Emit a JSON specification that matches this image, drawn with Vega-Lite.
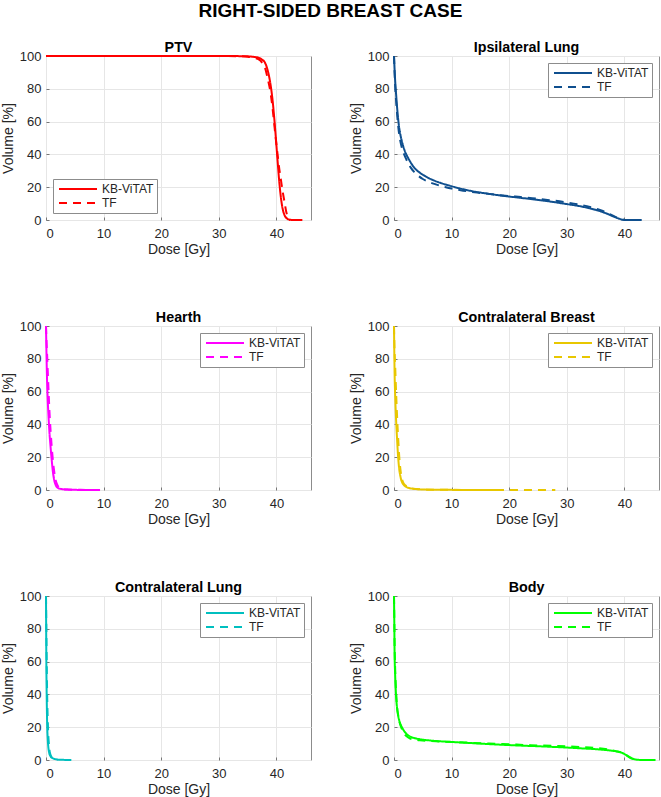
{
  "$schema": "https://vega.github.io/schema/vega-lite/v6.json",
  "padding": {"left": 0, "top": 2, "right": 0, "bottom": 0},
  "background": "white",
  "title": {"text": "RIGHT-SIDED BREAST CASE", "fontSize": 19, "fontWeight": "bold", "anchor": "middle", "offset": 19, "color": "black", "font": "Liberation Sans"},
  "datasets": {
    "ptv": [
      {"plan": "KB-ViTAT", "dose": 0, "vol": 100}, {"plan": "KB-ViTAT", "dose": 30, "vol": 100}, {"plan": "KB-ViTAT", "dose": 34, "vol": 99.9}, {"plan": "KB-ViTAT", "dose": 35, "vol": 99.8}, {"plan": "KB-ViTAT", "dose": 36, "vol": 99.5}, {"plan": "KB-ViTAT", "dose": 37, "vol": 98.8}, {"plan": "KB-ViTAT", "dose": 37.5, "vol": 97.8}, {"plan": "KB-ViTAT", "dose": 38, "vol": 96}, {"plan": "KB-ViTAT", "dose": 38.5, "vol": 91}, {"plan": "KB-ViTAT", "dose": 39, "vol": 82}, {"plan": "KB-ViTAT", "dose": 39.3, "vol": 74}, {"plan": "KB-ViTAT", "dose": 39.6, "vol": 63}, {"plan": "KB-ViTAT", "dose": 39.9, "vol": 50}, {"plan": "KB-ViTAT", "dose": 40.2, "vol": 36}, {"plan": "KB-ViTAT", "dose": 40.5, "vol": 23}, {"plan": "KB-ViTAT", "dose": 40.8, "vol": 13}, {"plan": "KB-ViTAT", "dose": 41.1, "vol": 6.5}, {"plan": "KB-ViTAT", "dose": 41.4, "vol": 3}, {"plan": "KB-ViTAT", "dose": 41.8, "vol": 1}, {"plan": "KB-ViTAT", "dose": 42.3, "vol": 0.2}, {"plan": "KB-ViTAT", "dose": 43, "vol": 0}, {"plan": "KB-ViTAT", "dose": 44.5, "vol": 0},
      {"plan": "TF", "dose": 0, "vol": 100}, {"plan": "TF", "dose": 30, "vol": 100}, {"plan": "TF", "dose": 34, "vol": 99.8}, {"plan": "TF", "dose": 35, "vol": 99.6}, {"plan": "TF", "dose": 36, "vol": 99}, {"plan": "TF", "dose": 37, "vol": 97.8}, {"plan": "TF", "dose": 37.5, "vol": 96}, {"plan": "TF", "dose": 38, "vol": 93}, {"plan": "TF", "dose": 38.5, "vol": 86}, {"plan": "TF", "dose": 39, "vol": 77}, {"plan": "TF", "dose": 39.3, "vol": 69}, {"plan": "TF", "dose": 39.6, "vol": 59}, {"plan": "TF", "dose": 39.9, "vol": 49}, {"plan": "TF", "dose": 40.2, "vol": 40}, {"plan": "TF", "dose": 40.5, "vol": 31}, {"plan": "TF", "dose": 40.8, "vol": 24}, {"plan": "TF", "dose": 41.1, "vol": 17}, {"plan": "TF", "dose": 41.4, "vol": 11}, {"plan": "TF", "dose": 41.7, "vol": 5}, {"plan": "TF", "dose": 42, "vol": 1.5}, {"plan": "TF", "dose": 42.2, "vol": 0.3}, {"plan": "TF", "dose": 42.4, "vol": 0}
    ],
    "lung": [
      {"plan": "KB-ViTAT", "dose": 0, "vol": 100}, {"plan": "KB-ViTAT", "dose": 0.1, "vol": 92}, {"plan": "KB-ViTAT", "dose": 0.2, "vol": 85}, {"plan": "KB-ViTAT", "dose": 0.4, "vol": 75}, {"plan": "KB-ViTAT", "dose": 0.6, "vol": 66}, {"plan": "KB-ViTAT", "dose": 0.8, "vol": 59}, {"plan": "KB-ViTAT", "dose": 1.0, "vol": 54}, {"plan": "KB-ViTAT", "dose": 1.3, "vol": 49}, {"plan": "KB-ViTAT", "dose": 1.6, "vol": 45}, {"plan": "KB-ViTAT", "dose": 2, "vol": 41}, {"plan": "KB-ViTAT", "dose": 2.5, "vol": 37.5}, {"plan": "KB-ViTAT", "dose": 3, "vol": 34.5}, {"plan": "KB-ViTAT", "dose": 3.5, "vol": 32}, {"plan": "KB-ViTAT", "dose": 4, "vol": 30.2}, {"plan": "KB-ViTAT", "dose": 5, "vol": 27.6}, {"plan": "KB-ViTAT", "dose": 6, "vol": 25.6}, {"plan": "KB-ViTAT", "dose": 7, "vol": 24}, {"plan": "KB-ViTAT", "dose": 8, "vol": 22.7}, {"plan": "KB-ViTAT", "dose": 9, "vol": 21.6}, {"plan": "KB-ViTAT", "dose": 10, "vol": 20.6}, {"plan": "KB-ViTAT", "dose": 12, "vol": 18.8}, {"plan": "KB-ViTAT", "dose": 14, "vol": 17.3}, {"plan": "KB-ViTAT", "dose": 16, "vol": 16.2}, {"plan": "KB-ViTAT", "dose": 18, "vol": 15.2}, {"plan": "KB-ViTAT", "dose": 20, "vol": 14.3}, {"plan": "KB-ViTAT", "dose": 22, "vol": 13.5}, {"plan": "KB-ViTAT", "dose": 24, "vol": 12.7}, {"plan": "KB-ViTAT", "dose": 26, "vol": 11.8}, {"plan": "KB-ViTAT", "dose": 28, "vol": 10.8}, {"plan": "KB-ViTAT", "dose": 30, "vol": 9.7}, {"plan": "KB-ViTAT", "dose": 32, "vol": 8.6}, {"plan": "KB-ViTAT", "dose": 34, "vol": 7.1}, {"plan": "KB-ViTAT", "dose": 35, "vol": 6.2}, {"plan": "KB-ViTAT", "dose": 36, "vol": 5.1}, {"plan": "KB-ViTAT", "dose": 37, "vol": 3.8}, {"plan": "KB-ViTAT", "dose": 38, "vol": 2.3}, {"plan": "KB-ViTAT", "dose": 39, "vol": 0.9}, {"plan": "KB-ViTAT", "dose": 39.8, "vol": 0.1}, {"plan": "KB-ViTAT", "dose": 40.5, "vol": 0}, {"plan": "KB-ViTAT", "dose": 43, "vol": 0},
      {"plan": "TF", "dose": 0, "vol": 100}, {"plan": "TF", "dose": 0.1, "vol": 90}, {"plan": "TF", "dose": 0.2, "vol": 82}, {"plan": "TF", "dose": 0.4, "vol": 71}, {"plan": "TF", "dose": 0.6, "vol": 62}, {"plan": "TF", "dose": 0.8, "vol": 55}, {"plan": "TF", "dose": 1.0, "vol": 50}, {"plan": "TF", "dose": 1.3, "vol": 45}, {"plan": "TF", "dose": 1.6, "vol": 41.5}, {"plan": "TF", "dose": 2, "vol": 38}, {"plan": "TF", "dose": 2.5, "vol": 34.3}, {"plan": "TF", "dose": 3, "vol": 31.5}, {"plan": "TF", "dose": 3.5, "vol": 29.3}, {"plan": "TF", "dose": 4, "vol": 27.6}, {"plan": "TF", "dose": 5, "vol": 25}, {"plan": "TF", "dose": 6, "vol": 23.3}, {"plan": "TF", "dose": 7, "vol": 22}, {"plan": "TF", "dose": 8, "vol": 20.9}, {"plan": "TF", "dose": 9, "vol": 20}, {"plan": "TF", "dose": 10, "vol": 19.2}, {"plan": "TF", "dose": 12, "vol": 17.9}, {"plan": "TF", "dose": 14, "vol": 16.9}, {"plan": "TF", "dose": 16, "vol": 16.1}, {"plan": "TF", "dose": 18, "vol": 15.3}, {"plan": "TF", "dose": 20, "vol": 14.6}, {"plan": "TF", "dose": 22, "vol": 14}, {"plan": "TF", "dose": 24, "vol": 13.3}, {"plan": "TF", "dose": 26, "vol": 12.5}, {"plan": "TF", "dose": 28, "vol": 11.7}, {"plan": "TF", "dose": 30, "vol": 10.7}, {"plan": "TF", "dose": 32, "vol": 9.5}, {"plan": "TF", "dose": 34, "vol": 8}, {"plan": "TF", "dose": 35, "vol": 7}, {"plan": "TF", "dose": 36, "vol": 5.8}, {"plan": "TF", "dose": 37, "vol": 4.3}, {"plan": "TF", "dose": 38, "vol": 2.6}, {"plan": "TF", "dose": 39, "vol": 1}, {"plan": "TF", "dose": 39.8, "vol": 0.1}, {"plan": "TF", "dose": 40.2, "vol": 0}
    ],
    "heart": [
      {"plan": "KB-ViTAT", "dose": 0, "vol": 100}, {"plan": "KB-ViTAT", "dose": 0.05, "vol": 90}, {"plan": "KB-ViTAT", "dose": 0.1, "vol": 80}, {"plan": "KB-ViTAT", "dose": 0.2, "vol": 65}, {"plan": "KB-ViTAT", "dose": 0.3, "vol": 55}, {"plan": "KB-ViTAT", "dose": 0.45, "vol": 44}, {"plan": "KB-ViTAT", "dose": 0.6, "vol": 35}, {"plan": "KB-ViTAT", "dose": 0.8, "vol": 26}, {"plan": "KB-ViTAT", "dose": 1.0, "vol": 18}, {"plan": "KB-ViTAT", "dose": 1.2, "vol": 11}, {"plan": "KB-ViTAT", "dose": 1.4, "vol": 6.5}, {"plan": "KB-ViTAT", "dose": 1.6, "vol": 3.8}, {"plan": "KB-ViTAT", "dose": 1.8, "vol": 2.2}, {"plan": "KB-ViTAT", "dose": 2.1, "vol": 1.2}, {"plan": "KB-ViTAT", "dose": 2.5, "vol": 0.7}, {"plan": "KB-ViTAT", "dose": 3, "vol": 0.4}, {"plan": "KB-ViTAT", "dose": 4, "vol": 0.2}, {"plan": "KB-ViTAT", "dose": 5, "vol": 0.1}, {"plan": "KB-ViTAT", "dose": 6, "vol": 0.05}, {"plan": "KB-ViTAT", "dose": 8.2, "vol": 0},
      {"plan": "TF", "dose": 0, "vol": 100}, {"plan": "TF", "dose": 0.05, "vol": 95}, {"plan": "TF", "dose": 0.1, "vol": 90}, {"plan": "TF", "dose": 0.2, "vol": 82}, {"plan": "TF", "dose": 0.3, "vol": 73}, {"plan": "TF", "dose": 0.45, "vol": 60}, {"plan": "TF", "dose": 0.6, "vol": 48}, {"plan": "TF", "dose": 0.8, "vol": 36}, {"plan": "TF", "dose": 1.0, "vol": 26}, {"plan": "TF", "dose": 1.2, "vol": 18}, {"plan": "TF", "dose": 1.4, "vol": 12}, {"plan": "TF", "dose": 1.6, "vol": 7.5}, {"plan": "TF", "dose": 1.8, "vol": 4.5}, {"plan": "TF", "dose": 2.1, "vol": 2.3}, {"plan": "TF", "dose": 2.5, "vol": 1.1}, {"plan": "TF", "dose": 3, "vol": 0.5}, {"plan": "TF", "dose": 4, "vol": 0.25}, {"plan": "TF", "dose": 6, "vol": 0.1}, {"plan": "TF", "dose": 8, "vol": 0.05}, {"plan": "TF", "dose": 10, "vol": 0}
    ],
    "cbreast": [
      {"plan": "KB-ViTAT", "dose": 0, "vol": 100}, {"plan": "KB-ViTAT", "dose": 0.05, "vol": 85}, {"plan": "KB-ViTAT", "dose": 0.1, "vol": 72}, {"plan": "KB-ViTAT", "dose": 0.2, "vol": 58}, {"plan": "KB-ViTAT", "dose": 0.3, "vol": 48}, {"plan": "KB-ViTAT", "dose": 0.4, "vol": 40}, {"plan": "KB-ViTAT", "dose": 0.55, "vol": 30}, {"plan": "KB-ViTAT", "dose": 0.7, "vol": 21}, {"plan": "KB-ViTAT", "dose": 0.9, "vol": 13}, {"plan": "KB-ViTAT", "dose": 1.1, "vol": 8.5}, {"plan": "KB-ViTAT", "dose": 1.3, "vol": 5.6}, {"plan": "KB-ViTAT", "dose": 1.6, "vol": 3.5}, {"plan": "KB-ViTAT", "dose": 2, "vol": 2.1}, {"plan": "KB-ViTAT", "dose": 2.5, "vol": 1.3}, {"plan": "KB-ViTAT", "dose": 3, "vol": 0.9}, {"plan": "KB-ViTAT", "dose": 4, "vol": 0.5}, {"plan": "KB-ViTAT", "dose": 5, "vol": 0.3}, {"plan": "KB-ViTAT", "dose": 7, "vol": 0.15}, {"plan": "KB-ViTAT", "dose": 10, "vol": 0.08}, {"plan": "KB-ViTAT", "dose": 14, "vol": 0.03}, {"plan": "KB-ViTAT", "dose": 18.1, "vol": 0},
      {"plan": "TF", "dose": 0, "vol": 100}, {"plan": "TF", "dose": 0.05, "vol": 92}, {"plan": "TF", "dose": 0.1, "vol": 85}, {"plan": "TF", "dose": 0.2, "vol": 76}, {"plan": "TF", "dose": 0.3, "vol": 66}, {"plan": "TF", "dose": 0.45, "vol": 52}, {"plan": "TF", "dose": 0.6, "vol": 40}, {"plan": "TF", "dose": 0.75, "vol": 30}, {"plan": "TF", "dose": 0.9, "vol": 21}, {"plan": "TF", "dose": 1.1, "vol": 13}, {"plan": "TF", "dose": 1.3, "vol": 8}, {"plan": "TF", "dose": 1.6, "vol": 4.5}, {"plan": "TF", "dose": 2, "vol": 2.8}, {"plan": "TF", "dose": 2.5, "vol": 1.7}, {"plan": "TF", "dose": 3, "vol": 1.1}, {"plan": "TF", "dose": 4, "vol": 0.6}, {"plan": "TF", "dose": 5, "vol": 0.35}, {"plan": "TF", "dose": 7, "vol": 0.2}, {"plan": "TF", "dose": 10, "vol": 0.1}, {"plan": "TF", "dose": 15, "vol": 0.05}, {"plan": "TF", "dose": 20, "vol": 0.02}, {"plan": "TF", "dose": 28, "vol": 0}
    ],
    "clung": [
      {"plan": "KB-ViTAT", "dose": 0, "vol": 100}, {"plan": "KB-ViTAT", "dose": 0.03, "vol": 80}, {"plan": "KB-ViTAT", "dose": 0.06, "vol": 60}, {"plan": "KB-ViTAT", "dose": 0.1, "vol": 45}, {"plan": "KB-ViTAT", "dose": 0.15, "vol": 32}, {"plan": "KB-ViTAT", "dose": 0.2, "vol": 22}, {"plan": "KB-ViTAT", "dose": 0.3, "vol": 13}, {"plan": "KB-ViTAT", "dose": 0.4, "vol": 8}, {"plan": "KB-ViTAT", "dose": 0.55, "vol": 4.5}, {"plan": "KB-ViTAT", "dose": 0.8, "vol": 2.2}, {"plan": "KB-ViTAT", "dose": 1.1, "vol": 1.2}, {"plan": "KB-ViTAT", "dose": 1.5, "vol": 0.6}, {"plan": "KB-ViTAT", "dose": 2, "vol": 0.3}, {"plan": "KB-ViTAT", "dose": 3, "vol": 0.1}, {"plan": "KB-ViTAT", "dose": 4.4, "vol": 0},
      {"plan": "TF", "dose": 0, "vol": 100}, {"plan": "TF", "dose": 0.05, "vol": 85}, {"plan": "TF", "dose": 0.1, "vol": 68}, {"plan": "TF", "dose": 0.15, "vol": 52}, {"plan": "TF", "dose": 0.2, "vol": 40}, {"plan": "TF", "dose": 0.3, "vol": 25}, {"plan": "TF", "dose": 0.4, "vol": 15}, {"plan": "TF", "dose": 0.5, "vol": 10}, {"plan": "TF", "dose": 0.6, "vol": 6}, {"plan": "TF", "dose": 0.8, "vol": 3}, {"plan": "TF", "dose": 1.0, "vol": 1.5}, {"plan": "TF", "dose": 1.3, "vol": 0.6}, {"plan": "TF", "dose": 1.6, "vol": 0.2}, {"plan": "TF", "dose": 2, "vol": 0}
    ],
    "body": [
      {"plan": "KB-ViTAT", "dose": 0, "vol": 100}, {"plan": "KB-ViTAT", "dose": 0.05, "vol": 85}, {"plan": "KB-ViTAT", "dose": 0.1, "vol": 66}, {"plan": "KB-ViTAT", "dose": 0.2, "vol": 52}, {"plan": "KB-ViTAT", "dose": 0.3, "vol": 43}, {"plan": "KB-ViTAT", "dose": 0.4, "vol": 37}, {"plan": "KB-ViTAT", "dose": 0.55, "vol": 31}, {"plan": "KB-ViTAT", "dose": 0.7, "vol": 27.5}, {"plan": "KB-ViTAT", "dose": 1.0, "vol": 23}, {"plan": "KB-ViTAT", "dose": 1.3, "vol": 20.5}, {"plan": "KB-ViTAT", "dose": 1.7, "vol": 18}, {"plan": "KB-ViTAT", "dose": 2.2, "vol": 15.8}, {"plan": "KB-ViTAT", "dose": 2.8, "vol": 14.3}, {"plan": "KB-ViTAT", "dose": 3.5, "vol": 13.4}, {"plan": "KB-ViTAT", "dose": 4.5, "vol": 12.7}, {"plan": "KB-ViTAT", "dose": 6, "vol": 12}, {"plan": "KB-ViTAT", "dose": 8, "vol": 11.4}, {"plan": "KB-ViTAT", "dose": 10, "vol": 11}, {"plan": "KB-ViTAT", "dose": 12.5, "vol": 10.5}, {"plan": "KB-ViTAT", "dose": 15, "vol": 10}, {"plan": "KB-ViTAT", "dose": 17.5, "vol": 9.5}, {"plan": "KB-ViTAT", "dose": 20, "vol": 9.1}, {"plan": "KB-ViTAT", "dose": 22.5, "vol": 8.7}, {"plan": "KB-ViTAT", "dose": 25, "vol": 8.4}, {"plan": "KB-ViTAT", "dose": 27.5, "vol": 8}, {"plan": "KB-ViTAT", "dose": 30, "vol": 7.6}, {"plan": "KB-ViTAT", "dose": 32.5, "vol": 7.1}, {"plan": "KB-ViTAT", "dose": 35, "vol": 6.6}, {"plan": "KB-ViTAT", "dose": 37, "vol": 6}, {"plan": "KB-ViTAT", "dose": 38.5, "vol": 5.3}, {"plan": "KB-ViTAT", "dose": 39.5, "vol": 4.5}, {"plan": "KB-ViTAT", "dose": 40.2, "vol": 3.2}, {"plan": "KB-ViTAT", "dose": 40.8, "vol": 2}, {"plan": "KB-ViTAT", "dose": 41.3, "vol": 1}, {"plan": "KB-ViTAT", "dose": 41.8, "vol": 0.4}, {"plan": "KB-ViTAT", "dose": 42.5, "vol": 0.1}, {"plan": "KB-ViTAT", "dose": 43.5, "vol": 0}, {"plan": "KB-ViTAT", "dose": 45.4, "vol": 0},
      {"plan": "TF", "dose": 0, "vol": 100}, {"plan": "TF", "dose": 0.05, "vol": 88}, {"plan": "TF", "dose": 0.1, "vol": 72}, {"plan": "TF", "dose": 0.2, "vol": 56}, {"plan": "TF", "dose": 0.3, "vol": 46}, {"plan": "TF", "dose": 0.4, "vol": 39}, {"plan": "TF", "dose": 0.55, "vol": 32}, {"plan": "TF", "dose": 0.7, "vol": 28}, {"plan": "TF", "dose": 1.0, "vol": 22.5}, {"plan": "TF", "dose": 1.3, "vol": 19.5}, {"plan": "TF", "dose": 1.7, "vol": 16.5}, {"plan": "TF", "dose": 2.2, "vol": 14.5}, {"plan": "TF", "dose": 2.8, "vol": 13.1}, {"plan": "TF", "dose": 3.5, "vol": 12.4}, {"plan": "TF", "dose": 4.5, "vol": 12}, {"plan": "TF", "dose": 6, "vol": 11.6}, {"plan": "TF", "dose": 8, "vol": 11.3}, {"plan": "TF", "dose": 10, "vol": 11}, {"plan": "TF", "dose": 12.5, "vol": 10.6}, {"plan": "TF", "dose": 15, "vol": 10.2}, {"plan": "TF", "dose": 17.5, "vol": 9.9}, {"plan": "TF", "dose": 20, "vol": 9.6}, {"plan": "TF", "dose": 22.5, "vol": 9.2}, {"plan": "TF", "dose": 25, "vol": 8.9}, {"plan": "TF", "dose": 27.5, "vol": 8.6}, {"plan": "TF", "dose": 30, "vol": 8.3}, {"plan": "TF", "dose": 32.5, "vol": 7.9}, {"plan": "TF", "dose": 35, "vol": 7.4}, {"plan": "TF", "dose": 37, "vol": 6.5}, {"plan": "TF", "dose": 38.5, "vol": 5.4}, {"plan": "TF", "dose": 39.5, "vol": 4.5}, {"plan": "TF", "dose": 40.2, "vol": 3.1}, {"plan": "TF", "dose": 40.8, "vol": 1.8}, {"plan": "TF", "dose": 41.3, "vol": 0.8}, {"plan": "TF", "dose": 41.8, "vol": 0.3}, {"plan": "TF", "dose": 42.5, "vol": 0}
    ]
  },
  "columns": 2,
  "spacing": {"row": 53, "column": 36},
  "resolve": {"scale": {"strokeDash": "independent"}, "legend": {"strokeDash": "independent"}},
  "concat": [
    {
      "title": "PTV", "width": 265, "height": 164,
      "data": {"name": "ptv"},
      "mark": {"type": "line", "color": "#ff0000", "strokeWidth": 2, "interpolate": "monotone"},
      "encoding": {
        "x": {"field": "dose", "type": "quantitative", "title": "Dose [Gy]", "scale": {"domain": [0, 46], "nice": false}, "axis": {"values": [0, 10, 20, 30, 40]}},
        "y": {"field": "vol", "type": "quantitative", "title": "Volume [%]", "scale": {"domain": [0, 100], "nice": false}, "axis": {"values": [0, 20, 40, 60, 80, 100]}},
        "strokeDash": {"field": "plan", "type": "nominal", "scale": {"domain": ["KB-ViTAT", "TF"], "range": [[1, 0], [8, 6]]}, "legend": {"title": null, "orient": "bottom-left", "symbolStrokeColor": "#ff0000"}}
      }
    },
    {
      "title": "Ipsilateral Lung", "width": 265, "height": 164,
      "data": {"name": "lung"},
      "mark": {"type": "line", "color": "#0f4f8e", "strokeWidth": 2, "interpolate": "monotone"},
      "encoding": {
        "x": {"field": "dose", "type": "quantitative", "title": "Dose [Gy]", "scale": {"domain": [0, 46], "nice": false}, "axis": {"values": [0, 10, 20, 30, 40]}},
        "y": {"field": "vol", "type": "quantitative", "title": "Volume [%]", "scale": {"domain": [0, 100], "nice": false}, "axis": {"values": [0, 20, 40, 60, 80, 100]}},
        "strokeDash": {"field": "plan", "type": "nominal", "scale": {"domain": ["KB-ViTAT", "TF"], "range": [[1, 0], [8, 6]]}, "legend": {"title": null, "orient": "top-right", "symbolStrokeColor": "#0f4f8e"}}
      }
    },
    {
      "title": "Hearth", "width": 265, "height": 164,
      "data": {"name": "heart"},
      "mark": {"type": "line", "color": "#ff00ff", "strokeWidth": 2, "interpolate": "monotone"},
      "encoding": {
        "x": {"field": "dose", "type": "quantitative", "title": "Dose [Gy]", "scale": {"domain": [0, 46], "nice": false}, "axis": {"values": [0, 10, 20, 30, 40]}},
        "y": {"field": "vol", "type": "quantitative", "title": "Volume [%]", "scale": {"domain": [0, 100], "nice": false}, "axis": {"values": [0, 20, 40, 60, 80, 100]}},
        "strokeDash": {"field": "plan", "type": "nominal", "scale": {"domain": ["KB-ViTAT", "TF"], "range": [[1, 0], [8, 6]]}, "legend": {"title": null, "orient": "top-right", "symbolStrokeColor": "#ff00ff"}}
      }
    },
    {
      "title": "Contralateral Breast", "width": 265, "height": 164,
      "data": {"name": "cbreast"},
      "mark": {"type": "line", "color": "#e8c700", "strokeWidth": 2, "interpolate": "monotone"},
      "encoding": {
        "x": {"field": "dose", "type": "quantitative", "title": "Dose [Gy]", "scale": {"domain": [0, 46], "nice": false}, "axis": {"values": [0, 10, 20, 30, 40]}},
        "y": {"field": "vol", "type": "quantitative", "title": "Volume [%]", "scale": {"domain": [0, 100], "nice": false}, "axis": {"values": [0, 20, 40, 60, 80, 100]}},
        "strokeDash": {"field": "plan", "type": "nominal", "scale": {"domain": ["KB-ViTAT", "TF"], "range": [[1, 0], [8, 6]]}, "legend": {"title": null, "orient": "top-right", "symbolStrokeColor": "#e8c700"}}
      }
    },
    {
      "title": "Contralateral Lung", "width": 265, "height": 164,
      "data": {"name": "clung"},
      "mark": {"type": "line", "color": "#00bfbf", "strokeWidth": 2, "interpolate": "monotone"},
      "encoding": {
        "x": {"field": "dose", "type": "quantitative", "title": "Dose [Gy]", "scale": {"domain": [0, 46], "nice": false}, "axis": {"values": [0, 10, 20, 30, 40]}},
        "y": {"field": "vol", "type": "quantitative", "title": "Volume [%]", "scale": {"domain": [0, 100], "nice": false}, "axis": {"values": [0, 20, 40, 60, 80, 100]}},
        "strokeDash": {"field": "plan", "type": "nominal", "scale": {"domain": ["KB-ViTAT", "TF"], "range": [[1, 0], [8, 6]]}, "legend": {"title": null, "orient": "top-right", "symbolStrokeColor": "#00bfbf"}}
      }
    },
    {
      "title": "Body", "width": 265, "height": 164,
      "data": {"name": "body"},
      "mark": {"type": "line", "color": "#00ff00", "strokeWidth": 2, "interpolate": "monotone"},
      "encoding": {
        "x": {"field": "dose", "type": "quantitative", "title": "Dose [Gy]", "scale": {"domain": [0, 46], "nice": false}, "axis": {"values": [0, 10, 20, 30, 40]}},
        "y": {"field": "vol", "type": "quantitative", "title": "Volume [%]", "scale": {"domain": [0, 100], "nice": false}, "axis": {"values": [0, 20, 40, 60, 80, 100]}},
        "strokeDash": {"field": "plan", "type": "nominal", "scale": {"domain": ["KB-ViTAT", "TF"], "range": [[1, 0], [8, 6]]}, "legend": {"title": null, "orient": "top-right", "symbolStrokeColor": "#00ff00"}}
      }
    }
  ],
  "config": {
    "font": "Liberation Sans",
    "view": {"stroke": "#8c8c8c", "strokeWidth": 1},
    "axis": {"domain": false, "ticks": true, "tickSize": -3, "tickColor": "#777777", "grid": true, "gridColor": "#e6e6e6", "labelFontSize": 13, "labelColor": "#262626", "titleFontSize": 14, "titleFontWeight": "normal", "titleColor": "#262626"},
    "axisX": {"titlePadding": 2, "labelPadding": 10},
    "axisY": {"titlePadding": 4, "labelPadding": 8},
    "title": {"fontSize": 14.3, "fontWeight": "bold", "color": "black", "offset": -5},
    "legend": {"offset": 7, "padding": 3, "strokeColor": "#8c8c8c", "fillColor": "white", "symbolType": "stroke", "symbolSize": 1444, "symbolStrokeWidth": 2, "clipHeight": 14, "rowPadding": 0, "labelFontSize": 12, "labelColor": "#262626", "labelOffset": 4, "symbolOffset": 2}
  }
}
